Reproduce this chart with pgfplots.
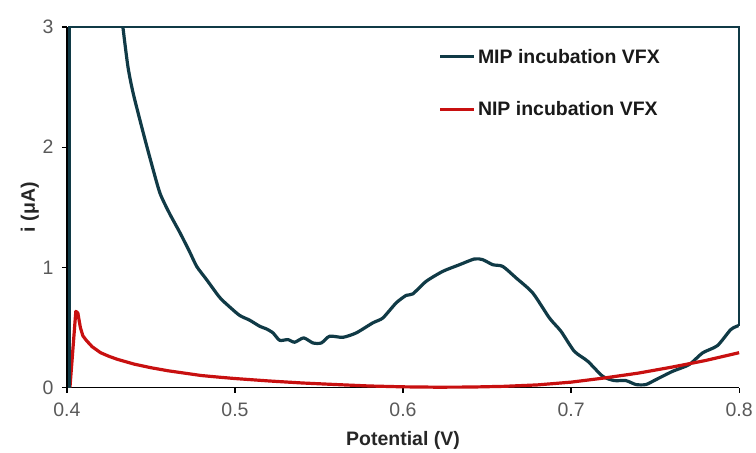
\documentclass[border=0pt]{standalone}
\usepackage{fontspec}
\setmainfont{Liberation Sans}
\usepackage{pgfplots}
\pgfplotsset{compat=1.18}
\definecolor{mip}{RGB}{16,58,70}
\definecolor{nip}{RGB}{200,16,16}
\definecolor{tickgray}{RGB}{89,89,89}
\begin{document}
\begin{tikzpicture}[x=1pt,y=1pt]
\begin{axis}[
  at={(0,0)}, anchor=south west,
  scale only axis, width=673pt, height=361pt,
  xmin=0.4, xmax=0.8, ymin=0, ymax=3,
  xtick={0.4,0.5,0.6,0.7,0.8},
  ytick={0,1,2,3},
  xticklabels={0.4,0.5,0.6,0.7,0.8},
  yticklabels={0,1,2,3},
  axis x line*=bottom, axis y line*=left,
  axis line style={black, line width=1.2pt, -},
  tick align=outside, major tick length=5pt,
  tick style={black, line width=1.2pt},
  ticklabel style={font=\fontsize{19.5}{22}\selectfont, text=tickgray},
  xticklabel style={yshift=-7pt},
  yticklabel style={xshift=-5pt},
  xlabel={\bfseries Potential (V)},
  ylabel={\bfseries i (μA)},
  label style={font=\fontsize{19.5}{22}\selectfont, text=black!85},
  xlabel style={at={(axis description cs:0.5,0)}, anchor=center, yshift=-53pt},
  ylabel style={at={(axis description cs:-0.055,0.5)}, anchor=center, rotate=0},
  clip=false,
  legend cell align=left,
  legend style={draw=none, fill=none, at={(rel axis cs:0.553,0.945)}, anchor=north west,
    inner sep=0pt, font=\bfseries\fontsize{19.5}{22}\selectfont, row sep=33pt,
    nodes={inner sep=2pt, text=black!90}},
  legend image code/.code={\draw[#1] (0pt,0pt) -- (34pt,0pt);},
]
\addplot[mip, line width=3.2pt, line join=round, smooth, tension=0.4] coordinates {
(0.4333,3.00) (0.4363,2.67) (0.4394,2.45) (0.4454,2.12) (0.4500,1.88)
(0.4553,1.62) (0.4610,1.45) (0.4672,1.29) (0.4730,1.13) (0.4773,1.006)
(0.4830,0.90) (0.4909,0.75) (0.4969,0.67) (0.5028,0.60) (0.5088,0.56)
(0.5147,0.51) (0.5187,0.488) (0.5226,0.455) (0.5266,0.393) (0.5315,0.399)
(0.5355,0.377) (0.5409,0.413) (0.5464,0.371) (0.5514,0.371) (0.5563,0.427)
(0.5642,0.418) (0.5722,0.455) (0.5820,0.538) (0.5880,0.579) (0.5959,0.704)
(0.6019,0.767) (0.6058,0.779) (0.6138,0.884) (0.6237,0.967) (0.6336,1.022)
(0.6425,1.07) (0.6474,1.064) (0.6534,1.022) (0.6593,1.008) (0.6673,0.912)
(0.6772,0.787) (0.6871,0.579) (0.6940,0.468) (0.7019,0.302) (0.7099,0.219)
(0.7188,0.094) (0.7257,0.058) (0.7326,0.058) (0.7386,0.025) (0.7445,0.025)
(0.7505,0.066) (0.7604,0.135) (0.7703,0.191) (0.7782,0.288) (0.7871,0.349)
(0.7950,0.482) (0.7996,0.515)
};
\addlegendentry{MIP incubation VFX}
\addplot[nip, line width=3.2pt, line join=round] coordinates {
(0.4018,0.0) (0.4053,0.634) (0.4065,0.62) (0.4080,0.50) (0.4095,0.43) (0.4117,0.39)
(0.4150,0.34) (0.4200,0.29) (0.4250,0.26) (0.4300,0.235) (0.4400,0.195) (0.4500,0.165)
(0.4600,0.14) (0.4700,0.12) (0.4800,0.10) (0.4900,0.087) (0.5000,0.075) (0.5200,0.055)
(0.5400,0.038) (0.5600,0.025) (0.5800,0.013) (0.6000,0.006) (0.6200,0.003)
(0.6400,0.004) (0.6600,0.010) (0.6800,0.022) (0.7000,0.045) (0.7200,0.08)
(0.7400,0.12) (0.7600,0.17) (0.7800,0.225) (0.8000,0.29)
};
\addlegendentry{NIP incubation VFX}
\addplot[mip, line width=2.6pt, line join=miter, forget plot] coordinates {
(0.4015,0) (0.4015,3) (0.8,3) (0.8,0.515)
};
\end{axis}
\path[use as bounding box] (-67,-61) rectangle (689,388);
\end{tikzpicture}
\end{document}
